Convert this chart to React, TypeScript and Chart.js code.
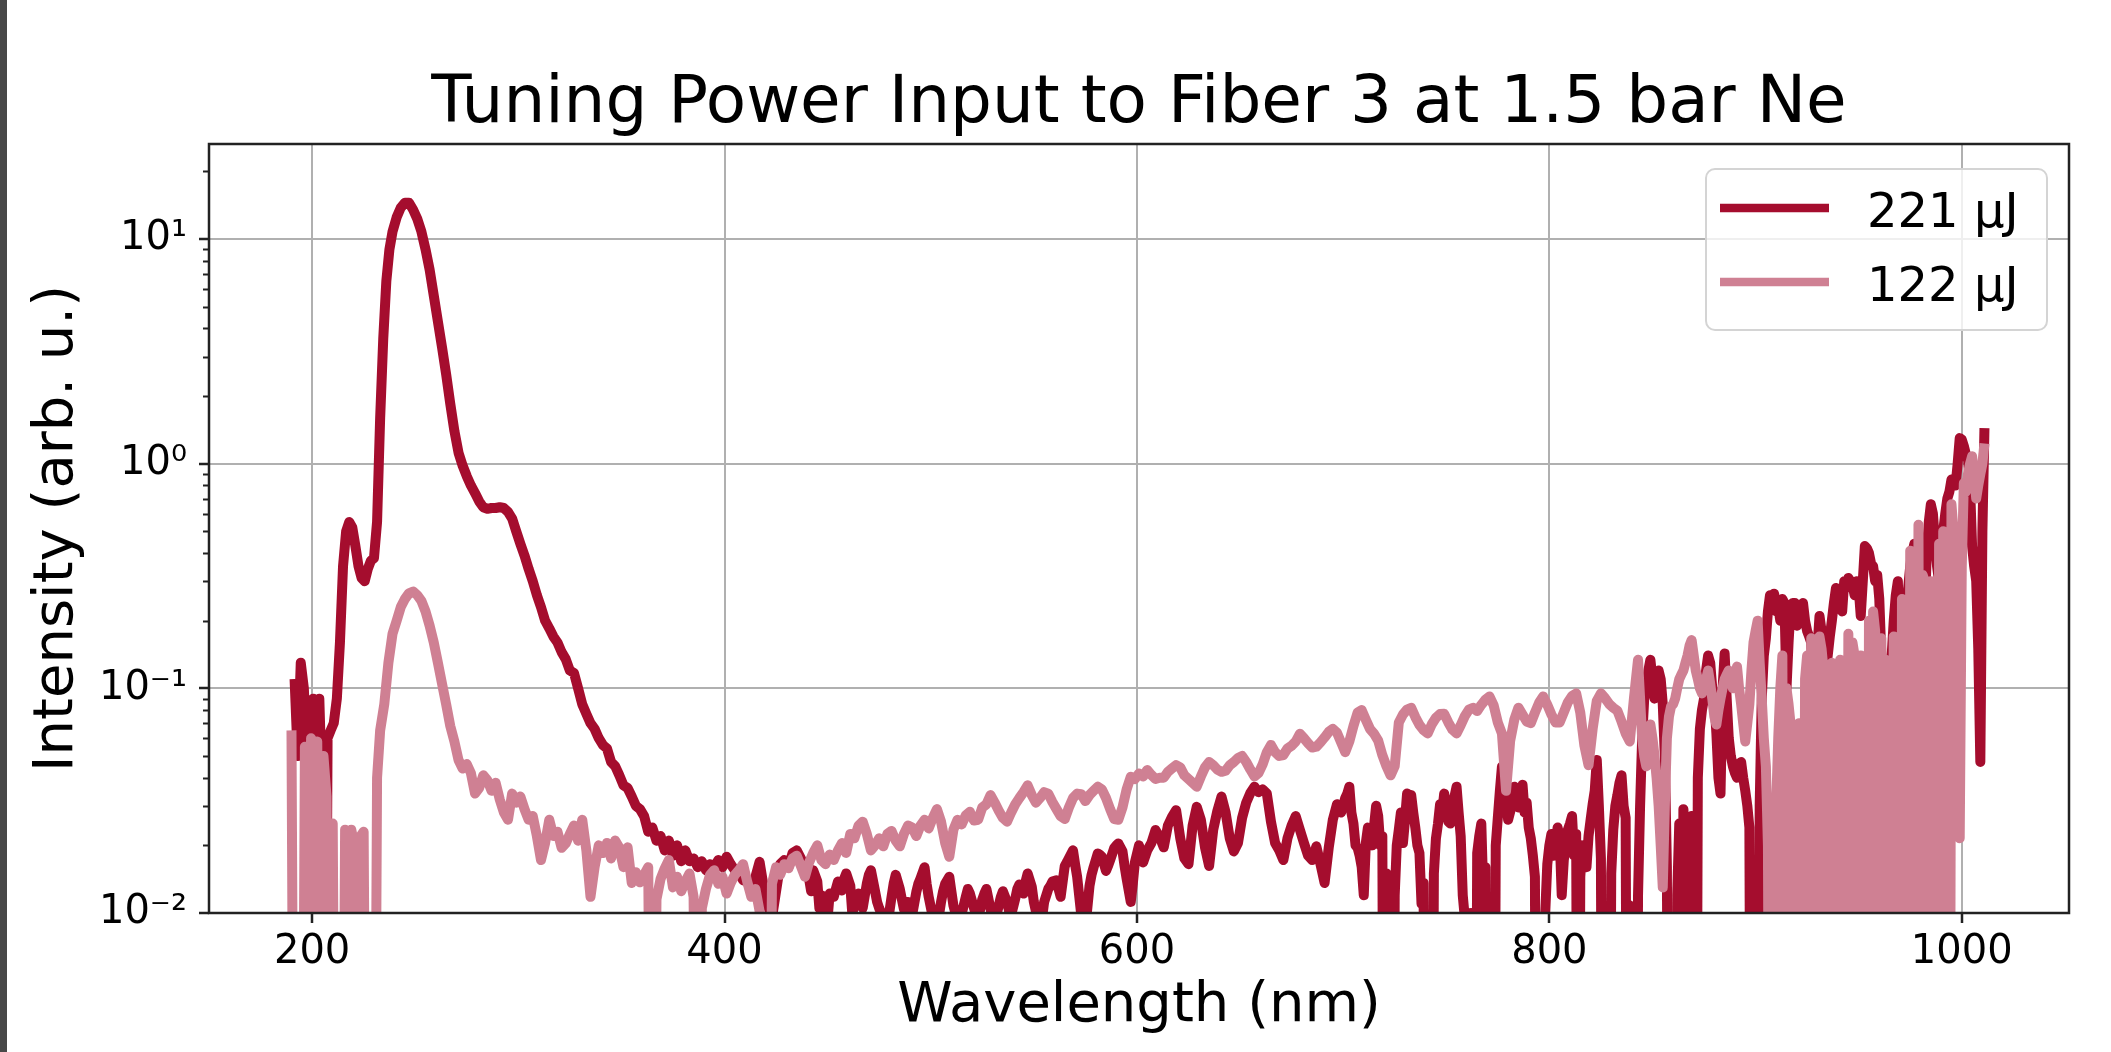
import { useEffect, useRef } from "react";
import { Chart, registerables } from "chart.js";

Chart.register(...registerables);

const FONT = "DejaVu Sans";
const TITLE = "Tuning Power Input to Fiber 3 at 1.5 bar Ne";
const X_LABEL = "Wavelength (nm)";
const Y_LABEL = "Intensity (arb. u.)";
const SERIES_LABELS = ["221 μJ", "122 μJ"];
const SERIES_COLORS = ["#a50d2e", "#cf8093"];
const X_TICKS = [200, 400, 600, 800, 1000];
const Y_TICKS = [0.01, 0.1, 1, 10];
const Y_TICK_LABELS = ["10⁻²", "10⁻¹", "10⁰", "10¹"];
const Y_MINOR_TICKS = [
  0.02, 0.03, 0.04, 0.05, 0.06, 0.07, 0.08, 0.09,
  0.2, 0.3, 0.4, 0.5, 0.6, 0.7, 0.8, 0.9,
  2, 3, 4, 5, 6, 7, 8, 9, 20,
];
const X_RANGE = [150, 1052];
const Y_RANGE = [0.01, 26.5];

// [wavelength (nm), intensity] — 221 µJ
const spectrum221: [number, number][] = [
  [191.5, 0.11], [193, 0.05], [194.5, 0.13], [196, 0.1], [197.5, 0.045], [199, 0.035], [200.5, 0.09], [202, 0.06], [203.5, 0.09], [205, 0.03],
  [206, 0.0001], [207.5, 0.06], [209, 0.065], [210.5, 0.07], [212, 0.09], [213.5, 0.16], [215, 0.35], [216.5, 0.5], [218, 0.55], [219.5, 0.52],
  [221, 0.43], [222.5, 0.35], [224, 0.31], [225.5, 0.3], [227, 0.34], [228.5, 0.37], [230, 0.38], [231.5, 0.55], [233, 1.6], [234.5, 3.6],
  [236, 6.5], [237.5, 9], [239, 10.8], [241, 12.5], [243, 13.8], [245, 14.5], [247, 14.5], [249, 13.5], [251, 12.3], [253, 10.8],
  [255, 9], [257, 7.3], [259, 5.6], [261, 4.3], [263, 3.3], [265, 2.5], [267, 1.85], [269, 1.4], [271, 1.12], [273, 0.98],
  [275, 0.88], [277, 0.8], [279, 0.74], [281, 0.68], [283, 0.64], [285, 0.63], [287, 0.635], [289, 0.635], [291, 0.64], [293, 0.635],
  [295, 0.61], [297, 0.57], [299, 0.5], [301, 0.44], [303, 0.39], [305, 0.34], [307, 0.3], [309, 0.26], [311, 0.23], [313, 0.2],
  [315, 0.185], [317, 0.17], [319, 0.16], [321, 0.145], [323, 0.135], [325, 0.12], [327, 0.117], [329, 0.1], [331, 0.085], [333, 0.077],
  [335, 0.07], [337, 0.066], [339, 0.06], [341, 0.056], [343, 0.054], [345, 0.047], [347, 0.045], [349, 0.041], [351, 0.037], [353, 0.036],
  [355, 0.033], [357, 0.03], [359, 0.029], [361, 0.027], [363, 0.023], [365, 0.024], [367, 0.021], [369, 0.022], [371, 0.019], [373, 0.021],
  [375, 0.018], [377, 0.02], [379, 0.017], [381, 0.019], [383, 0.017], [385, 0.0175], [387, 0.016], [389, 0.017], [391, 0.0155], [393, 0.0165],
  [395, 0.016], [397, 0.0172], [399, 0.016], [401, 0.0178], [403, 0.0165], [405, 0.0155], [407, 0.015], [409, 0.014], [411, 0.0138], [413, 0.0125],
  [415, 0.0145], [417, 0.0169], [419, 0.013], [421, 0.0108], [423, 0.0095], [425, 0.0125], [427, 0.0165], [429, 0.0172], [431, 0.016], [433, 0.0185],
  [435, 0.019], [437, 0.0175], [439, 0.016], [441, 0.0142], [443, 0.0155], [445, 0.0138], [447, 0.012], [449, 0.0108], [451, 0.0122], [453, 0.0118],
  [455, 0.0138], [457, 0.0126], [459, 0.015], [461, 0.0132], [463, 0.0112], [465, 0.0122], [467, 0.0105], [469, 0.0135], [471, 0.0155], [473, 0.0125],
  [475, 0.0105], [477, 0.0095], [479, 0.0088], [481, 0.0118], [483, 0.0148], [485, 0.0128], [487, 0.0104], [489, 0.0112], [491, 0.0098], [493, 0.0124],
  [495, 0.0142], [497, 0.016], [499, 0.0118], [501, 0.0096], [503, 0.0085], [505, 0.0112], [507, 0.0135], [509, 0.0145], [511, 0.0108], [513, 0.0092],
  [515, 0.0099], [517, 0.0118], [519, 0.0122], [521, 0.0105], [523, 0.0094], [525, 0.0115], [527, 0.0128], [529, 0.0104], [531, 0.0091], [533, 0.0108],
  [535, 0.0125], [537, 0.0112], [539, 0.0098], [541, 0.0116], [543, 0.0134], [545, 0.0122], [547, 0.015], [549, 0.0131], [551, 0.0102], [553, 0.0088],
  [555, 0.0112], [557, 0.0128], [559, 0.0138], [561, 0.014], [563, 0.0118], [565, 0.0162], [567, 0.0175], [569, 0.019], [571, 0.0145], [573, 0.0098],
  [575, 0.0086], [577, 0.0132], [579, 0.016], [581, 0.0184], [583, 0.0178], [585, 0.0154], [587, 0.0172], [589, 0.0195], [591, 0.0204], [593, 0.0188],
  [595, 0.0142], [597, 0.0112], [599, 0.0168], [601, 0.02], [603, 0.0168], [605, 0.019], [607, 0.0205], [609, 0.0234], [611, 0.0218], [613, 0.0196],
  [615, 0.0245], [617, 0.0268], [619, 0.0287], [621, 0.0215], [623, 0.0175], [625, 0.0165], [627, 0.0245], [629, 0.0297], [631, 0.026], [633, 0.0196],
  [635, 0.0162], [637, 0.0235], [639, 0.0285], [641, 0.033], [643, 0.028], [645, 0.0215], [647, 0.0188], [649, 0.0205], [651, 0.0265], [653, 0.031],
  [655, 0.0342], [657, 0.0365], [659, 0.0345], [661, 0.0355], [663, 0.034], [665, 0.0255], [667, 0.0205], [669, 0.019], [671, 0.0172], [673, 0.0215],
  [675, 0.0245], [677, 0.027], [679, 0.0235], [681, 0.0205], [683, 0.018], [685, 0.0172], [687, 0.0198], [689, 0.0165], [691, 0.0136], [693, 0.0195],
  [695, 0.026], [697, 0.0305], [699, 0.028], [701, 0.0325], [703, 0.0365], [705, 0.025], [707, 0.0195], [709, 0.016], [711, 0.0205], [713, 0.0235],
  [715, 0.0245], [717, 0.027], [719, 0.022], [721, 0.015], [723, 0.0001], [725, 0.012], [727, 0.0235], [729, 0.0205], [731, 0.034], [733, 0.0335],
  [735, 0.024], [737, 0.0185], [739, 0.0136], [741, 0.0098], [743, 0.0001], [745, 0.0215], [747, 0.0305], [749, 0.034], [751, 0.0255], [753, 0.031],
  [755, 0.0365], [757, 0.022], [759, 0.0095], [761, 0.0001], [763, 0.0001], [765, 0.0185], [767, 0.025], [769, 0.016], [771, 0.0108], [773, 0.0001],
  [775, 0.0265], [777, 0.0448], [779, 0.0325], [781, 0.0282], [783, 0.0365], [785, 0.0295], [787, 0.0372], [789, 0.031], [791, 0.0215], [793, 0.0145],
  [795, 0.0001], [797, 0.0001], [799, 0.0165], [801, 0.0225], [803, 0.0195], [805, 0.022], [807, 0.0172], [809, 0.0235], [811, 0.027], [813, 0.0225],
  [815, 0.0145], [817, 0.0185], [819, 0.022], [821, 0.0305], [823, 0.048], [825, 0.0175], [827, 0.0001], [829, 0.0001], [831, 0.0235], [833, 0.0335],
  [835, 0.041], [837, 0.0265], [839, 0.0108], [841, 0.0001], [843, 0.012], [845, 0.06], [847, 0.1], [849, 0.134], [851, 0.09], [853, 0.12],
  [855, 0.085], [857, 0.016], [859, 0.0001], [861, 0.0001], [863, 0.025], [865, 0.029], [867, 0.0001], [869, 0.027], [871, 0.0001], [873, 0.066],
  [875, 0.09], [877, 0.14], [879, 0.1], [881, 0.063], [883, 0.034], [885, 0.143], [887, 0.06], [889, 0.045], [891, 0.04], [893, 0.047],
  [895, 0.035], [897, 0.024], [899, 0.0001], [901, 0.0001], [903, 0.09], [905, 0.167], [907, 0.26], [909, 0.264], [911, 0.23], [913, 0.25],
  [915, 0.1], [917, 0.23], [919, 0.24], [921, 0.22], [923, 0.24], [925, 0.18], [927, 0.16], [929, 0.042], [931, 0.21], [933, 0.14],
  [935, 0.14], [937, 0.2], [939, 0.28], [941, 0.25], [943, 0.3], [945, 0.31], [947, 0.29], [949, 0.3], [951, 0.21], [953, 0.43],
  [955, 0.4], [957, 0.35], [959, 0.32], [961, 0.14], [963, 0.09], [965, 0.065], [967, 0.2], [969, 0.3], [971, 0.06], [973, 0.2],
  [975, 0.35], [977, 0.44], [979, 0.28], [981, 0.058], [983, 0.4], [985, 0.66], [987, 0.45], [989, 0.3], [991, 0.5], [993, 0.7],
  [995, 0.85], [997, 0.8], [999, 1.3], [1001, 1.2], [1003, 1.05], [1005, 0.43], [1007, 0.3], [1009, 0.047], [1011, 1.44],
];

// in-between samples of the 221 µJ noise (merged by wavelength)
const spectrum221Fine: [number, number][] = [
  [442, 0.0125], [446, 0.0105], [450, 0.0095], [454, 0.0128], [458, 0.0142], [462, 0.0098], [466, 0.0115], [470, 0.0148], [474, 0.0112], [478, 0.0085],
  [482, 0.0135], [486, 0.0115], [490, 0.0092], [494, 0.0135], [498, 0.0135], [502, 0.0088], [506, 0.0125], [510, 0.0125], [514, 0.0088], [518, 0.0128],
  [522, 0.0098], [526, 0.0122], [530, 0.0095], [534, 0.0118], [538, 0.0102], [542, 0.0128], [546, 0.0138], [550, 0.0112], [554, 0.0095], [558, 0.0132],
  [562, 0.0128], [566, 0.0168], [570, 0.0165], [574, 0.0088], [578, 0.0148], [582, 0.0182], [586, 0.0162], [590, 0.02], [594, 0.0162], [598, 0.0135],
  [700, 0.03], [702, 0.034], [704, 0.028], [706, 0.02], [708, 0.018], [710, 0.012], [712, 0.024], [714, 0.02], [716, 0.03], [718, 0.02],
  [720, 0.0001], [722, 0.009], [724, 0.0001], [726, 0.02], [728, 0.028], [730, 0.026], [732, 0.03], [734, 0.028], [736, 0.02], [738, 0.011],
  [740, 0.0001], [742, 0.0001], [744, 0.015], [746, 0.025], [748, 0.028], [750, 0.03], [752, 0.025], [754, 0.033], [756, 0.028], [758, 0.012],
  [760, 0.0001], [762, 0.01], [764, 0.0001], [766, 0.022], [768, 0.012], [770, 0.0001], [772, 0.0001], [774, 0.02], [776, 0.035], [778, 0.038],
  [780, 0.026], [782, 0.033], [784, 0.032], [786, 0.034], [788, 0.028], [790, 0.024], [792, 0.018], [794, 0.0001], [796, 0.0001], [798, 0.01],
  [800, 0.02], [802, 0.018], [804, 0.024], [806, 0.012], [808, 0.02], [810, 0.025], [812, 0.018], [814, 0.0001], [816, 0.02], [818, 0.016],
  [820, 0.026], [822, 0.035], [824, 0.03], [826, 0.0001], [828, 0.0001], [830, 0.015], [832, 0.03], [834, 0.038], [836, 0.03], [838, 0.0001],
  [840, 0.0001], [842, 0.0001], [844, 0.03], [846, 0.09], [848, 0.12], [850, 0.11], [852, 0.1], [854, 0.11], [856, 0.05], [858, 0.0001],
  [860, 0.0001], [862, 0.012], [864, 0.0001], [866, 0.02], [868, 0.0001], [870, 0.0001], [872, 0.04], [874, 0.08], [876, 0.12], [878, 0.13],
  [880, 0.09], [882, 0.04], [884, 0.1], [886, 0.09], [888, 0.05], [890, 0.042], [892, 0.046], [894, 0.04], [896, 0.03], [898, 0.0001],
  [900, 0.0001], [902, 0.03], [904, 0.14], [906, 0.22], [908, 0.25], [910, 0.22], [912, 0.2], [914, 0.24], [916, 0.16], [918, 0.24],
  [920, 0.19], [922, 0.23], [924, 0.2], [926, 0.17], [928, 0.1], [930, 0.15], [932, 0.18], [934, 0.12], [936, 0.17], [938, 0.24],
  [940, 0.27], [942, 0.22], [944, 0.28], [946, 0.3], [948, 0.26], [950, 0.28], [952, 0.3], [954, 0.42], [956, 0.36], [958, 0.3],
  [960, 0.25], [962, 0.1], [964, 0.08], [966, 0.14], [968, 0.26], [970, 0.15], [972, 0.12], [974, 0.28], [976, 0.4], [978, 0.42],
  [980, 0.15], [982, 0.2], [984, 0.55], [986, 0.6], [988, 0.35], [990, 0.4], [992, 0.6], [994, 0.75], [996, 0.82], [998, 1.0],
  [1000, 1.28], [1002, 1.1], [1004, 0.8], [1006, 0.35], [1008, 0.15], [1010, 0.5],
];

// [wavelength (nm), intensity] — 122 µJ
const spectrum122: [number, number][] = [
  [190, 0.065], [191.5, 0.0001], [193, 0.0001], [195, 0.0001], [196.5, 0.055], [198, 0.0001], [199.5, 0.06], [201, 0.012], [202.5, 0.058], [204, 0.0001],
  [205.5, 0.05], [207, 0.033], [208.5, 0.0001], [210, 0.025], [211.5, 0.0001], [213, 0.0001], [214.5, 0.0001], [216, 0.0235], [217.5, 0.0001], [219, 0.0235],
  [220.5, 0.02], [222, 0.0001], [223.5, 0.022], [225, 0.023], [226.5, 0.0001], [228, 0.0001], [230, 0.0001], [231.5, 0.04], [233, 0.065], [235, 0.085],
  [237, 0.13], [239, 0.175], [241, 0.2], [243, 0.23], [245, 0.25], [247, 0.265], [249, 0.27], [251, 0.26], [253, 0.245], [255, 0.22],
  [257, 0.19], [259, 0.16], [261, 0.13], [263, 0.105], [265, 0.085], [267, 0.068], [269, 0.058], [271, 0.048], [273, 0.044], [275, 0.046],
  [277, 0.042], [279, 0.034], [281, 0.036], [283, 0.041], [285, 0.039], [287, 0.035], [289, 0.038], [291, 0.032], [293, 0.028], [295, 0.026],
  [297, 0.034], [299, 0.031], [301, 0.033], [303, 0.029], [305, 0.026], [307, 0.027], [309, 0.022], [311, 0.0172], [313, 0.0205], [315, 0.026],
  [317, 0.022], [319, 0.023], [321, 0.0195], [323, 0.0204], [325, 0.0225], [327, 0.0245], [329, 0.021], [331, 0.026], [333, 0.019], [335, 0.0118],
  [337, 0.016], [339, 0.02], [341, 0.0185], [343, 0.0205], [345, 0.0175], [347, 0.021], [349, 0.0195], [351, 0.016], [353, 0.0196], [355, 0.0136],
  [357, 0.0152], [359, 0.0137], [361, 0.0148], [363, 0.016], [365, 0.0001], [367, 0.0115], [369, 0.0142], [371, 0.0158], [373, 0.0172], [375, 0.013],
  [377, 0.0145], [379, 0.0125], [381, 0.0138], [383, 0.015], [385, 0.0118], [387, 0.0001], [389, 0.0105], [391, 0.0128], [393, 0.0148], [395, 0.0155],
  [397, 0.0135], [399, 0.0145], [401, 0.0122], [403, 0.0136], [405, 0.0148], [407, 0.0155], [409, 0.0165], [411, 0.0138], [413, 0.0118], [415, 0.0128],
  [417, 0.0102], [419, 0.0001], [421, 0.0001], [423, 0.0135], [425, 0.016], [427, 0.0148], [429, 0.0165], [431, 0.0158], [433, 0.0175], [435, 0.018],
  [437, 0.0162], [439, 0.0145], [441, 0.0168], [443, 0.0185], [445, 0.02], [447, 0.0172], [449, 0.0165], [451, 0.0182], [453, 0.0172], [455, 0.019],
  [457, 0.0205], [459, 0.0185], [461, 0.0225], [463, 0.0215], [465, 0.0245], [467, 0.0255], [469, 0.0225], [471, 0.019], [473, 0.02], [475, 0.0215],
  [477, 0.0198], [479, 0.0225], [481, 0.0232], [483, 0.021], [485, 0.0198], [487, 0.0225], [489, 0.0245], [491, 0.024], [493, 0.022], [495, 0.0245],
  [497, 0.026], [499, 0.0238], [501, 0.0265], [503, 0.029], [505, 0.0255], [507, 0.0205], [509, 0.0178], [511, 0.0235], [513, 0.026], [515, 0.0248],
  [517, 0.0272], [519, 0.0282], [521, 0.0258], [523, 0.026], [525, 0.0295], [527, 0.0305], [529, 0.0335], [531, 0.031], [533, 0.0285], [535, 0.0265],
  [537, 0.0255], [539, 0.028], [541, 0.0305], [543, 0.0325], [545, 0.0345], [547, 0.037], [549, 0.0335], [551, 0.031], [553, 0.0325], [555, 0.0345],
  [557, 0.034], [559, 0.0312], [561, 0.029], [563, 0.027], [565, 0.0262], [567, 0.0295], [569, 0.0325], [571, 0.034], [573, 0.0338], [575, 0.0315],
  [577, 0.0335], [579, 0.035], [581, 0.0365], [583, 0.0355], [585, 0.0325], [587, 0.029], [589, 0.0262], [591, 0.026], [593, 0.0295], [595, 0.0355],
  [597, 0.0404], [599, 0.0395], [601, 0.0418], [603, 0.0405], [605, 0.0433], [607, 0.0412], [609, 0.0395], [611, 0.04], [613, 0.04], [615, 0.0425],
  [617, 0.044], [619, 0.0455], [621, 0.0445], [623, 0.041], [625, 0.0395], [627, 0.038], [629, 0.0365], [631, 0.0405], [633, 0.0445], [635, 0.047],
  [637, 0.0455], [639, 0.0435], [641, 0.0425], [643, 0.043], [645, 0.0455], [647, 0.047], [649, 0.049], [651, 0.05], [653, 0.047], [655, 0.0435],
  [657, 0.0405], [659, 0.042], [661, 0.046], [663, 0.052], [665, 0.056], [667, 0.052], [669, 0.05], [671, 0.0505], [673, 0.054], [675, 0.0555],
  [677, 0.058], [679, 0.0628], [681, 0.06], [683, 0.057], [685, 0.0545], [687, 0.055], [689, 0.0575], [691, 0.0605], [693, 0.064], [695, 0.066],
  [697, 0.0635], [699, 0.0575], [701, 0.052], [703, 0.058], [705, 0.068], [707, 0.078], [709, 0.08], [711, 0.0725], [713, 0.066], [715, 0.0628],
  [717, 0.0585], [719, 0.0505], [721, 0.045], [723, 0.041], [725, 0.045], [727, 0.0705], [729, 0.0765], [731, 0.0805], [733, 0.082], [735, 0.0745],
  [737, 0.0688], [739, 0.0652], [741, 0.063], [743, 0.0692], [745, 0.074], [747, 0.0768], [749, 0.077], [751, 0.0705], [753, 0.0655], [755, 0.063],
  [757, 0.0685], [759, 0.0752], [761, 0.0805], [763, 0.082], [765, 0.0792], [767, 0.0845], [769, 0.089], [771, 0.092], [773, 0.084], [775, 0.0705],
  [777, 0.063], [779, 0.035], [781, 0.0585], [783, 0.0725], [785, 0.082], [787, 0.0765], [789, 0.0712], [791, 0.07], [793, 0.078], [795, 0.0862],
  [797, 0.092], [799, 0.0845], [801, 0.0765], [803, 0.0705], [805, 0.0705], [807, 0.0782], [809, 0.0868], [811, 0.0925], [813, 0.095], [815, 0.078],
  [817, 0.0555], [819, 0.0455], [821, 0.066], [823, 0.088], [825, 0.095], [827, 0.0905], [829, 0.0852], [831, 0.082], [833, 0.0795], [835, 0.0712],
  [837, 0.063], [839, 0.058], [841, 0.09], [843, 0.134], [845, 0.06], [847, 0.045], [849, 0.069], [851, 0.05], [853, 0.03], [855, 0.013],
  [857, 0.06], [859, 0.083], [861, 0.09], [863, 0.11], [865, 0.12], [867, 0.14], [869, 0.164], [871, 0.12], [873, 0.1], [875, 0.1],
  [877, 0.12], [879, 0.09], [881, 0.069], [883, 0.09], [885, 0.11], [887, 0.12], [889, 0.1], [891, 0.125], [893, 0.085], [895, 0.058],
  [897, 0.085], [899, 0.16], [901, 0.2], [903, 0.09], [905, 0.045], [907, 0.0001], [909, 0.0001], [911, 0.06], [913, 0.14], [915, 0.1],
  [917, 0.069], [919, 0.0001], [921, 0.07], [923, 0.0001], [925, 0.14], [927, 0.167], [929, 0.0001], [931, 0.17], [933, 0.12], [935, 0.0001],
  [937, 0.13], [939, 0.0001], [941, 0.134], [943, 0.0001], [945, 0.175], [947, 0.16], [949, 0.0001], [951, 0.14], [953, 0.0001], [955, 0.2],
  [957, 0.22], [959, 0.0001], [961, 0.167], [963, 0.134], [965, 0.0001], [967, 0.17], [969, 0.0001], [971, 0.25], [973, 0.0001], [975, 0.41],
  [977, 0.0001], [979, 0.535], [981, 0.32], [983, 0.0001], [985, 0.3], [987, 0.0001], [989, 0.44], [991, 0.5], [993, 0.0001], [995, 0.66],
  [997, 0.3], [999, 0.0215], [1001, 0.82], [1003, 0.9], [1005, 1.08], [1007, 0.7], [1009, 0.9], [1011, 1.23],
];

// in-between samples of the 122 µJ noise (merged by wavelength)
const spectrum122Fine: [number, number][] = [
  [842, 0.11], [844, 0.09], [846, 0.05], [848, 0.055], [850, 0.06], [852, 0.04], [854, 0.02], [856, 0.03], [858, 0.075], [860, 0.085],
  [862, 0.1], [864, 0.115], [866, 0.13], [868, 0.155], [870, 0.14], [872, 0.11], [874, 0.095], [876, 0.11], [878, 0.105], [880, 0.075],
  [882, 0.08], [884, 0.1], [886, 0.115], [888, 0.11], [890, 0.11], [892, 0.1], [894, 0.07], [896, 0.07], [898, 0.12], [900, 0.18],
  [902, 0.13], [904, 0.06], [906, 0.02], [908, 0.0001], [910, 0.03], [912, 0.1], [914, 0.0001], [916, 0.085], [918, 0.0001], [920, 0.06],
  [922, 0.0001], [924, 0.11], [926, 0.0001], [928, 0.13], [930, 0.0001], [932, 0.15], [934, 0.0001], [936, 0.12], [938, 0.11], [940, 0.0001],
  [942, 0.12], [944, 0.0001], [946, 0.0001], [948, 0.14], [950, 0.0001], [952, 0.12], [954, 0.0001], [956, 0.0001], [958, 0.18], [960, 0.0001],
  [962, 0.0001], [964, 0.12], [966, 0.0001], [968, 0.14], [970, 0.0001], [972, 0.2], [974, 0.0001], [976, 0.3], [978, 0.0001], [980, 0.0001],
  [982, 0.3], [984, 0.0001], [986, 0.25], [988, 0.0001], [990, 0.0001], [992, 0.45], [994, 0.0001], [996, 0.5], [998, 0.2], [1000, 0.35],
  [1002, 0.75], [1004, 1.0], [1006, 0.9], [1008, 0.8], [1010, 1.0],
];

const AXIS_COLOR = "#222222";
const GRID_COLOR = "#b0b0b0";
const LINE_WIDTH = 10;

const byWavelength = (a: [number, number][], b: [number, number][]) =>
  [...a, ...b].sort((p, q) => p[0] - q[0]).map(([x, y]) => ({ x, y }));

const framePlugin = {
  id: "frame",
  afterDatasetsDraw(chart: any) {
    const { ctx, chartArea } = chart;
    const yScale = chart.scales.y;
    ctx.save();
    ctx.strokeStyle = AXIS_COLOR;
    ctx.lineWidth = 2;
    for (const v of Y_MINOR_TICKS) {
      if (v < Y_RANGE[0] || v > Y_RANGE[1]) continue;
      const py = Math.round(yScale.getPixelForValue(v)) + 0.5;
      ctx.beginPath();
      ctx.moveTo(chartArea.left - 6, py);
      ctx.lineTo(chartArea.left, py);
      ctx.stroke();
    }
    ctx.lineWidth = 2.5;
    ctx.strokeRect(
      chartArea.left,
      chartArea.top,
      chartArea.right - chartArea.left,
      chartArea.bottom - chartArea.top
    );
    ctx.restore();
  },
};

const legendPlugin = {
  id: "boxLegend",
  afterDraw(chart: any) {
    const { ctx, chartArea } = chart;
    const boxW = 341;
    const boxH = 161;
    const left = chartArea.right - 22 - boxW;
    const top = chartArea.top + 25;
    ctx.save();
    ctx.beginPath();
    ctx.roundRect(left, top, boxW, boxH, 9);
    ctx.fillStyle = "rgba(255,255,255,0.8)";
    ctx.fill();
    ctx.strokeStyle = "#d4d4d4";
    ctx.lineWidth = 2;
    ctx.stroke();
    chart.data.datasets.forEach((ds: any, i: number) => {
      const y = top + 39 + i * 74;
      ctx.beginPath();
      ctx.moveTo(left + 14, y);
      ctx.lineTo(left + 123, y);
      ctx.strokeStyle = ds.borderColor;
      ctx.lineWidth = 8.5;
      ctx.lineCap = "butt";
      ctx.stroke();
      ctx.fillStyle = "#000";
      ctx.font = `48px '${FONT}'`;
      ctx.textAlign = "left";
      ctx.textBaseline = "alphabetic";
      ctx.fillText(ds.label, left + 161, y + 19);
    });
    ctx.restore();
  },
};

export default function App() {
  const canvasRef = useRef<HTMLCanvasElement | null>(null);

  useEffect(() => {
    const canvas = canvasRef.current;
    if (!canvas) return;
    const chart = new Chart(canvas, {
      type: "line",
      data: {
        datasets: [
          {
            label: SERIES_LABELS[0],
            data: byWavelength(spectrum221, spectrum221Fine),
            borderColor: SERIES_COLORS[0],
            backgroundColor: SERIES_COLORS[0],
            borderWidth: LINE_WIDTH,
            pointRadius: 0,
            tension: 0,
            fill: false,
            borderJoinStyle: "round",
            borderCapStyle: "butt",
            order: 1,
            clip: 0,
          },
          {
            label: SERIES_LABELS[1],
            data: byWavelength(spectrum122, spectrum122Fine),
            borderColor: SERIES_COLORS[1],
            backgroundColor: SERIES_COLORS[1],
            borderWidth: LINE_WIDTH,
            pointRadius: 0,
            tension: 0,
            fill: false,
            borderJoinStyle: "round",
            borderCapStyle: "butt",
            order: 0,
            clip: 0,
          },
        ],
      },
      options: {
        responsive: false,
        animation: false,
        devicePixelRatio: 1,
        events: [],
        layout: { padding: { left: 0, right: 42, top: 0, bottom: 0 } },
        plugins: {
          legend: { display: false },
          tooltip: { enabled: false },
          title: {
            display: true,
            text: TITLE,
            fullSize: false,
            color: "#000",
            font: { family: FONT, size: 66, weight: "normal", lineHeight: 1.1 },
            padding: { top: 69, bottom: 2.4 },
          },
        },
        scales: {
          x: {
            type: "linear",
            position: "bottom",
            min: X_RANGE[0],
            max: X_RANGE[1],
            afterBuildTicks: (s: any) => {
              s.ticks = X_TICKS.map((value) => ({ value }));
            },
            afterFit: (s: any) => {
              s.height = 139;
            },
            ticks: {
              color: "#000",
              font: { family: FONT, size: 40 },
              padding: 6,
              maxRotation: 0,
              autoSkip: false,
              callback: (v: any) => String(v),
            },
            grid: {
              color: GRID_COLOR,
              lineWidth: 2,
              tickLength: 10,
              tickColor: AXIS_COLOR,
              tickWidth: 2.5,
            },
            border: { display: false },
            title: {
              display: true,
              text: X_LABEL,
              color: "#000",
              font: { family: FONT, size: 56 },
              padding: { top: 0, bottom: 12 },
            },
          },
          y: {
            type: "logarithmic",
            position: "left",
            min: Y_RANGE[0],
            max: Y_RANGE[1],
            afterBuildTicks: (s: any) => {
              s.ticks = Y_TICKS.map((value) => ({ value }));
            },
            afterFit: (s: any) => {
              s.width = 209;
            },
            ticks: {
              color: "#000",
              font: { family: FONT, size: 40 },
              padding: 12,
              autoSkip: false,
              callback: (v: any) => {
                const i = Y_TICKS.findIndex(
                  (t) => Math.abs(Math.log10(t) - Math.log10(Number(v))) < 1e-6
                );
                return i >= 0 ? Y_TICK_LABELS[i] : "";
              },
            },
            grid: {
              color: GRID_COLOR,
              lineWidth: 2,
              tickLength: 10,
              tickColor: AXIS_COLOR,
              tickWidth: 2.5,
            },
            border: { display: false },
            title: {
              display: true,
              text: Y_LABEL,
              color: "#000",
              font: { family: FONT, size: 56 },
              padding: { top: 24, bottom: 0 },
            },
          },
        },
      } as any,
      plugins: [framePlugin, legendPlugin],
    });
    return () => chart.destroy();
  }, []);

  return (
    <div
      style={{
        position: "fixed",
        left: 0,
        top: 0,
        width: 2111,
        height: 1052,
        background: "#fff",
        overflow: "hidden",
      }}
    >
      <canvas
        ref={canvasRef}
        width={2111}
        height={1052}
        style={{ display: "block", width: 2111, height: 1052 }}
      />
      <div
        style={{
          position: "absolute",
          left: 0,
          top: 0,
          width: 7,
          height: 1052,
          background: "#484848",
        }}
      />
    </div>
  );
}
